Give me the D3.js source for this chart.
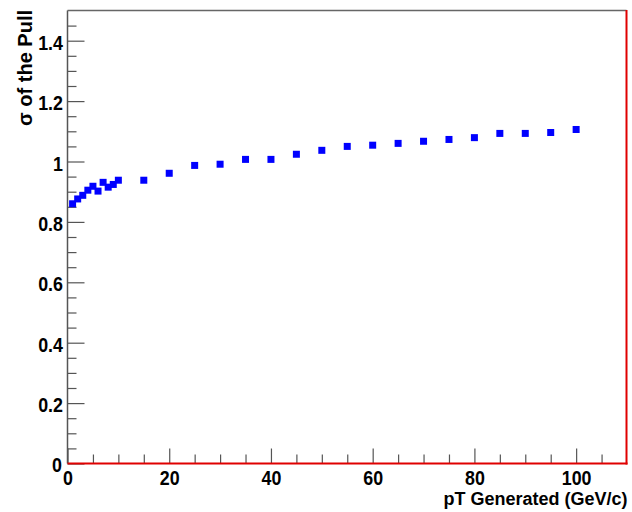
<!DOCTYPE html>
<html>
<head>
<meta charset="utf-8">
<script src="https://cdn.jsdelivr.net/npm/d3@7"></script>
<style>
  html, body { margin: 0; padding: 0; background: #fff; }
  svg { display: block; }
  .lbl { font-family: 'Liberation Sans', Arial, Helvetica, sans-serif; font-weight: bold; fill: #000; }
</style>
</head>
<body>
<svg id="chart" width="632" height="512"></svg>
<script>
// Generated pT (GeV/c)
const ptGen = [1, 2, 3, 4, 5, 6, 7, 8, 9, 10, 15, 20, 25, 30, 35, 40, 45, 50, 55, 60, 65, 70, 75, 80, 85, 90, 95, 100];
// Width (sigma) of the pull distribution per pT bin
const sigmaPull = [0.860, 0.876, 0.888, 0.905, 0.918, 0.902, 0.931, 0.915, 0.924, 0.938, 0.938, 0.961, 0.987, 0.991, 1.007, 1.007, 1.024, 1.037, 1.050, 1.054, 1.060, 1.067, 1.073, 1.079, 1.093, 1.093, 1.096, 1.106];

const xMajor = [0, 20, 40, 60, 80, 100];
const xMinor = [5, 10, 15, 25, 30, 35, 45, 50, 55, 65, 70, 75, 85, 90, 95, 105];
const yMajor = [0, 0.2, 0.4, 0.6, 0.8, 1, 1.2, 1.4];
const yMinor = [0.05, 0.1, 0.15, 0.25, 0.3, 0.35, 0.45, 0.5, 0.55, 0.65, 0.7, 0.75, 0.85, 0.9, 0.95, 1.05, 1.1, 1.15, 1.25, 1.3, 1.35, 1.45];

const svg = d3.select("#chart");
const L = 67.5, R = 626.5, T = 10.5, B = 463.5;
const squeeze = 0.85;   // condensed look of the tick label font
const labelSize = "21px";

const x = d3.scaleLinear().domain([0, 110]).range([L, R + 0.5]);
const y = d3.scaleLinear().domain([0, 1.5]).range([B, T]);

const fmt = d => (d === 0 ? "" : d3.format("~g")(d));

// left axis: major ticks with labels, minor ticks without
const gyMaj = svg.append("g").attr("transform", `translate(${L},0)`)
  .call(d3.axisLeft(y).tickValues(yMajor).tickSize(-17).tickFormat(fmt));
const gyMin = svg.append("g").attr("transform", `translate(${L},0)`)
  .call(d3.axisLeft(y).tickValues(yMinor).tickSize(-9).tickFormat(""));

// bottom axis
const gxMaj = svg.append("g").attr("transform", `translate(0,${B})`)
  .call(d3.axisBottom(x).tickValues(xMajor).tickSize(-15).tickFormat(d3.format("d")));
const gxMin = svg.append("g").attr("transform", `translate(0,${B})`)
  .call(d3.axisBottom(x).tickValues(xMinor).tickSize(-9).tickFormat(""));

[gyMaj, gyMin, gxMaj, gxMin].forEach(g => {
  g.select(".domain").remove();
  g.selectAll(".tick line").attr("stroke", "#555").attr("stroke-width", 1.2);
  g.selectAll(".tick text").attr("class", "lbl").style("font-size", labelSize);
});
gyMaj.selectAll(".tick text")
  .attr("x", -4.5 / squeeze).attr("y", 8.5).attr("dy", null)
  .attr("transform", `scale(${squeeze},1)`);
gxMaj.selectAll(".tick text")
  .attr("y", 21.5).attr("dy", null)
  .attr("transform", `scale(${squeeze},1)`);

// the lone "0" on the y axis, set slightly apart from the x axis "0"
svg.append("text").attr("class", "lbl").style("font-size", labelSize)
  .attr("text-anchor", "end")
  .attr("transform", `translate(62,${B + 8}) scale(${squeeze},1)`)
  .text("0");

// frame
svg.append("line").attr("x1", L).attr("x2", L).attr("y1", T).attr("y2", B)
  .attr("stroke", "#555").attr("stroke-width", 1.5);
svg.append("line").attr("x1", L).attr("x2", R).attr("y1", T).attr("y2", T)
  .attr("stroke", "#666").attr("stroke-width", 1.5);
svg.append("line").attr("x1", R).attr("x2", R).attr("y1", T - 0.5).attr("y2", B + 1)
  .attr("stroke", "#e00000").attr("stroke-width", 2);
svg.append("line").attr("x1", L).attr("x2", R + 1).attr("y1", B).attr("y2", B)
  .attr("stroke", "#e00000").attr("stroke-width", 2);

// markers
svg.append("g").selectAll("rect").data(ptGen.map((p, i) => [p, sigmaPull[i]]))
  .join("rect")
  .attr("x", d => x(d[0]) - 3.5).attr("y", d => y(d[1]) - 3.5)
  .attr("width", 7).attr("height", 7)
  .attr("fill", "#0000ff");

// axis titles
svg.append("text").attr("class", "lbl").style("font-size", "18px")
  .attr("text-anchor", "end").attr("x", R + 1).attr("y", 504.5)
  .text("pT Generated (GeV/c)");
svg.append("text").attr("class", "lbl").style("font-size", "20px")
  .attr("text-anchor", "end")
  .attr("transform", `translate(31.5,${T - 0.5}) rotate(-90)`)
  .text("σ of the Pull");
</script>
</body>
</html>
